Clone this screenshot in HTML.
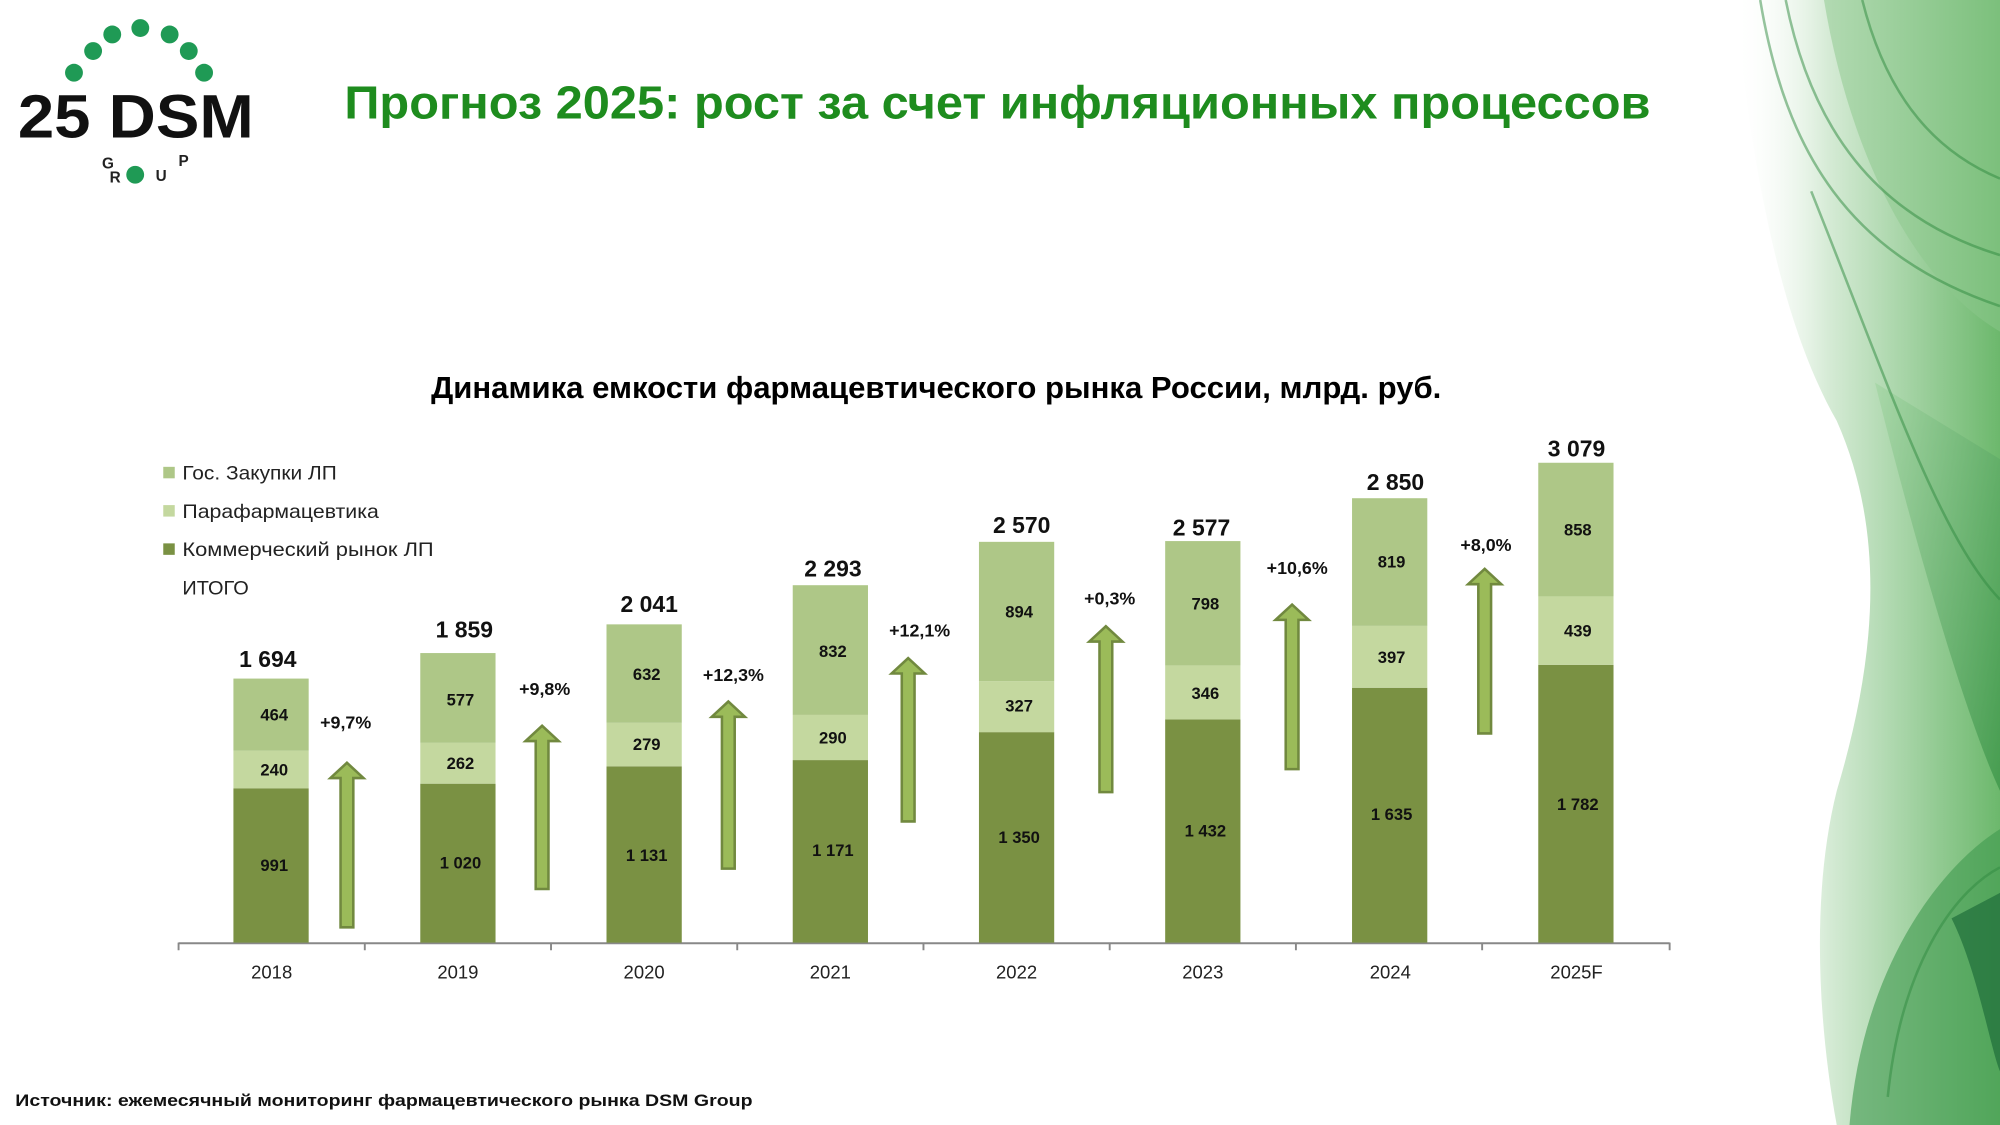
<!DOCTYPE html>
<html><head><meta charset="utf-8"><style>
html,body{margin:0;padding:0;background:#fff;}
svg{display:block;}
text{font-family:"Liberation Sans","DejaVu Sans",sans-serif;}
</style></head><body>
<svg width="2000" height="1125" viewBox="0 0 1568 882" xmlns="http://www.w3.org/2000/svg">
<defs>
<linearGradient id="g1" x1="0" y1="0" x2="1" y2="0">
<stop offset="0" stop-color="#ffffff" stop-opacity="0"/>
<stop offset="0.35" stop-color="#d6ebd6"/>
<stop offset="1" stop-color="#6cb86c"/>
</linearGradient>
<linearGradient id="g2" x1="0" y1="0" x2="1" y2="1">
<stop offset="0" stop-color="#9fd49f"/>
<stop offset="1" stop-color="#2e8b3e"/>
</linearGradient>
</defs>
<rect width="1568" height="882" fill="#fff"/>
<path d="M1360,0 C1375,150 1400,260 1440,330 C1480,420 1470,520 1440,620 C1420,700 1425,800 1440,882 L1568,882 L1568,0 Z" fill="url(#g1)"/>
<path d="M1430,0 C1450,120 1500,220 1568,260 L1568,0 Z" fill="#8cc88c" opacity="0.5"/>
<path d="M1470,300 C1500,420 1540,560 1568,620 L1568,360 Z" fill="url(#g2)" opacity="0.6"/>
<path d="M1450,882 C1460,760 1520,680 1568,650 L1568,882 Z" fill="#3f9a4f" opacity="0.6"/>
<path d="M1530,720 C1550,760 1560,820 1568,840 L1568,700 Z" fill="#1f6e3a" opacity="0.7"/>
<g fill="none" stroke="#2f8a3f" stroke-width="2" opacity="0.5">
<path d="M1380,0 C1400,120 1450,200 1568,240"/>
<path d="M1400,0 C1420,100 1470,170 1568,200"/>
<path d="M1460,0 C1480,80 1520,120 1568,140"/>
<path d="M1420,150 C1480,300 1520,420 1568,470"/>
<path d="M1480,860 C1490,760 1530,700 1568,680"/>
</g>
<!-- logo -->
<g fill="#1f9a55">
<circle cx="73" cy="40" r="7"/><circle cx="88" cy="27" r="7"/><circle cx="110" cy="22" r="7"/><circle cx="133" cy="27" r="7"/><circle cx="148" cy="40" r="7"/><circle cx="58" cy="57" r="7"/><circle cx="160" cy="57" r="7"/><circle cx="106" cy="137" r="7"/>
</g>
<text x="14" y="108" font-size="48" font-weight="bold" fill="#111" textLength="185" lengthAdjust="spacingAndGlyphs">25 DSM</text>
<text x="80" y="132" font-size="12" font-weight="bold" fill="#222">G</text>
<text x="86" y="143" font-size="12" font-weight="bold" fill="#222">R</text>
<text x="122" y="142" font-size="12" font-weight="bold" fill="#222">U</text>
<text x="140" y="130" font-size="12" font-weight="bold" fill="#222">P</text>
<!-- titles -->
<text x="270" y="93" font-size="36" font-weight="bold" fill="#1e8c1e" textLength="1024" lengthAdjust="spacingAndGlyphs">Прогноз 2025: рост за счет инфляционных процессов</text>
<text x="338" y="312" font-size="24" font-weight="bold" fill="#000" textLength="792" lengthAdjust="spacingAndGlyphs">Динамика емкости фармацевтического рынка России, млрд. руб.</text>
<!-- legend -->
<rect x="128" y="366" width="9" height="9" fill="#aec787"/>
<rect x="128" y="396" width="9" height="9" fill="#c4d89f"/>
<rect x="128" y="426" width="9" height="9" fill="#7a9143"/>
<g font-size="15.5" fill="#222">
<text x="143" y="376" textLength="121" lengthAdjust="spacingAndGlyphs">Гос. Закупки ЛП</text>
<text x="143" y="406" textLength="154" lengthAdjust="spacingAndGlyphs">Парафармацевтика</text>
<text x="143" y="436" textLength="197" lengthAdjust="spacingAndGlyphs">Коммерческий рынок ЛП</text>
<text x="143" y="466" textLength="52" lengthAdjust="spacingAndGlyphs">ИТОГО</text>
</g>
<!-- axis -->
<line x1="140" y1="739.5" x2="1309" y2="739.5" stroke="#888" stroke-width="1.5"/>
<g stroke="#888" stroke-width="1.5">
<line x1="140" y1="739" x2="140" y2="745"/><line x1="286" y1="739" x2="286" y2="745"/><line x1="432" y1="739" x2="432" y2="745"/><line x1="578" y1="739" x2="578" y2="745"/><line x1="724" y1="739" x2="724" y2="745"/><line x1="870" y1="739" x2="870" y2="745"/><line x1="1016" y1="739" x2="1016" y2="745"/><line x1="1162" y1="739" x2="1162" y2="745"/><line x1="1309" y1="739" x2="1309" y2="745"/>
</g>
<!-- bars -->
<g>
<rect x="183" y="618" width="59" height="121" fill="#7a9143"/><rect x="183" y="588.6" width="59" height="29.4" fill="#c4d89f"/><rect x="183" y="532" width="59" height="56.6" fill="#aec787"/>
<rect x="329.5" y="614.4" width="59" height="124.6" fill="#7a9143"/><rect x="329.5" y="582.4" width="59" height="32" fill="#c4d89f"/><rect x="329.5" y="512" width="59" height="70.4" fill="#aec787"/>
<rect x="475.5" y="600.8" width="59" height="138.2" fill="#7a9143"/><rect x="475.5" y="566.7" width="59" height="34.1" fill="#c4d89f"/><rect x="475.5" y="489.5" width="59" height="77.2" fill="#aec787"/>
<rect x="621.5" y="595.9" width="59" height="143.1" fill="#7a9143"/><rect x="621.5" y="560.5" width="59" height="35.4" fill="#c4d89f"/><rect x="621.5" y="458.8" width="59" height="101.7" fill="#aec787"/>
<rect x="767.5" y="574" width="59" height="165" fill="#7a9143"/><rect x="767.5" y="534" width="59" height="40" fill="#c4d89f"/><rect x="767.5" y="424.8" width="59" height="109.2" fill="#aec787"/>
<rect x="913.5" y="564" width="59" height="175" fill="#7a9143"/><rect x="913.5" y="521.7" width="59" height="42.3" fill="#c4d89f"/><rect x="913.5" y="424.2" width="59" height="97.5" fill="#aec787"/>
<rect x="1060" y="539.2" width="59" height="199.8" fill="#7a9143"/><rect x="1060" y="490.7" width="59" height="48.5" fill="#c4d89f"/><rect x="1060" y="390.6" width="59" height="100.1" fill="#aec787"/>
<rect x="1206" y="521.2" width="59" height="217.8" fill="#7a9143"/><rect x="1206" y="467.6" width="59" height="53.6" fill="#c4d89f"/><rect x="1206" y="362.8" width="59" height="104.8" fill="#aec787"/>
</g>
<g font-size="13" font-weight="bold" fill="#111" text-anchor="middle">
<text x="215" y="683">991</text><text x="215" y="608">240</text><text x="215" y="565">464</text>
<text x="361" y="681">1 020</text><text x="361" y="603">262</text><text x="361" y="553">577</text>
<text x="507" y="675">1 131</text><text x="507" y="588">279</text><text x="507" y="533">632</text>
<text x="653" y="671">1 171</text><text x="653" y="583">290</text><text x="653" y="515">832</text>
<text x="799" y="661">1 350</text><text x="799" y="558">327</text><text x="799" y="484">894</text>
<text x="945" y="656">1 432</text><text x="945" y="548">346</text><text x="945" y="478">798</text>
<text x="1091" y="643">1 635</text><text x="1091" y="520">397</text><text x="1091" y="445">819</text>
<text x="1237" y="635">1 782</text><text x="1237" y="499">439</text><text x="1237" y="420">858</text>
</g>
<g font-size="18" font-weight="bold" fill="#111" text-anchor="middle">
<text x="210" y="523">1 694</text><text x="364" y="500">1 859</text><text x="509" y="480">2 041</text><text x="653" y="452">2 293</text><text x="801" y="418">2 570</text><text x="942" y="420">2 577</text><text x="1094" y="384">2 850</text><text x="1236" y="358">3 079</text>
</g>
<g font-size="14.5" fill="#222" text-anchor="middle">
<text x="213" y="767">2018</text><text x="359" y="767">2019</text><text x="505" y="767">2020</text><text x="651" y="767">2021</text><text x="797" y="767">2022</text><text x="943" y="767">2023</text><text x="1090" y="767">2024</text><text x="1236" y="767">2025F</text>
</g>
<!-- arrows -->
<g fill="#9bbb59" stroke="#71893f" stroke-width="2">
<path d="M267,727 V610 H259 L272,598 L285,610 H277 V727 Z"/>
<path d="M420,697 V581 H412 L425,569 L438,581 H430 V697 Z"/>
<path d="M566,681 V562 H558 L571,550 L584,562 H576 V681 Z"/>
<path d="M707,644 V528 H699 L712,516 L725,528 H717 V644 Z"/>
<path d="M862,621 V503 H854 L867,491 L880,503 H872 V621 Z"/>
<path d="M1008,603 V486 H1000 L1013,474 L1026,486 H1018 V603 Z"/>
<path d="M1159,575 V458 H1151 L1164,446 L1177,458 H1169 V575 Z"/>
</g>
<g font-size="14" font-weight="bold" fill="#111" text-anchor="middle">
<text x="271" y="571">+9,7%</text><text x="427" y="545">+9,8%</text><text x="575" y="534">+12,3%</text><text x="721" y="499">+12,1%</text><text x="870" y="474">+0,3%</text><text x="1017" y="450">+10,6%</text><text x="1165" y="432">+8,0%</text>
</g>
<text x="12" y="867" font-size="13" font-weight="bold" fill="#111" textLength="578" lengthAdjust="spacingAndGlyphs">Источник: ежемесячный мониторинг фармацевтического рынка DSM Group</text>
</svg>
</body></html>
